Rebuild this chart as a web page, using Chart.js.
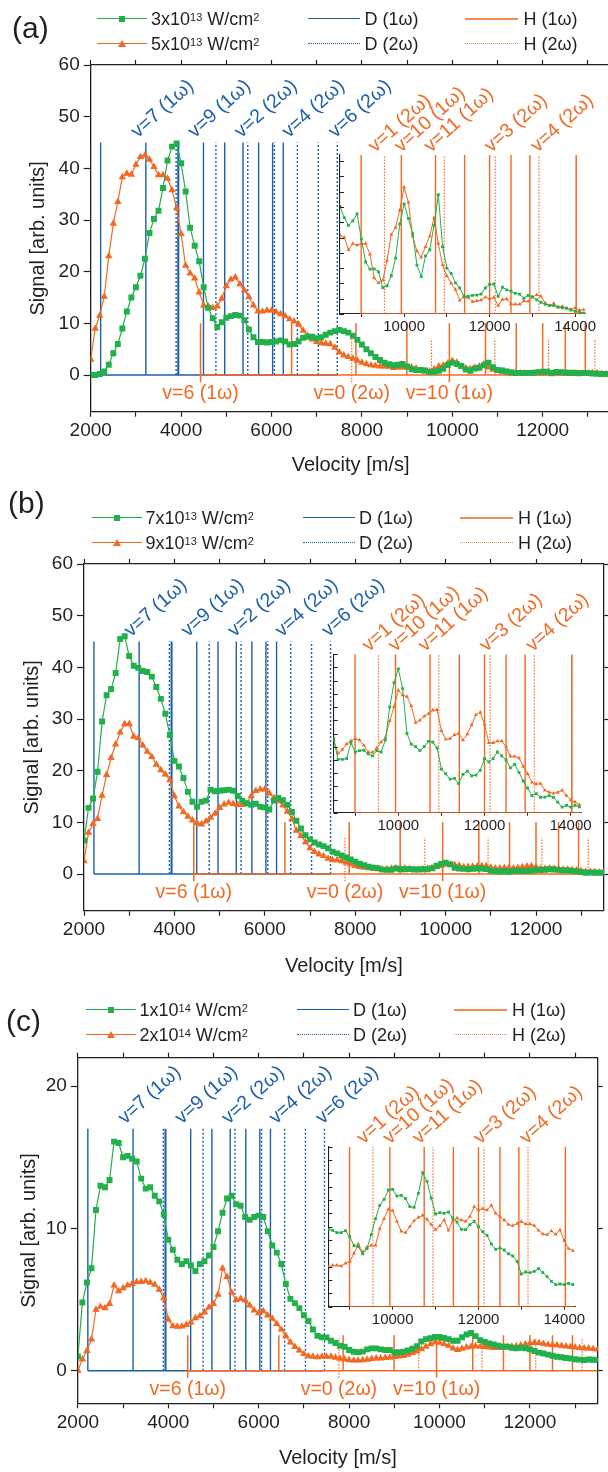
<!DOCTYPE html>
<html><head><meta charset="utf-8">
<script src="https://cdn.jsdelivr.net/npm/chart.js@4.4.1/dist/chart.umd.min.js"></script>
<style>
html,body{margin:0;padding:0;background:#fff;}
#root{position:relative;width:608px;height:1472px;overflow:hidden;background:#fff;font-family:'Liberation Sans',Arial,sans-serif;color:#231f20;}
canvas{position:absolute;}
.lt{position:absolute;font-size:18px;line-height:20px;white-space:nowrap;color:#231f20;}
.lt sup{font-size:11px;position:relative;top:-2px;vertical-align:top;}
.pl{position:absolute;font-size:30px;line-height:34px;color:#231f20;}
.ln{position:absolute;height:0;}
.sq{position:absolute;width:6px;height:6px;}
.tri{position:absolute;width:0;height:0;border-left:4px solid transparent;border-right:4px solid transparent;}
</style></head>
<body><div id="root"></div>
<script>
// ---------------- DATA ----------------
const velStart = 2000, velStep = 100;          // main series sampled every 100 m/s from 2000 to 13500
const insetStart = 8500, insetStep = 100;      // inset series sampled every 100 m/s from 8500 to 14200

const xTicks = [2000, 3000, 4000, 5000, 6000, 7000, 8000, 9000, 10000, 11000, 12000, 13000];
const xTickLabels = [2000, 4000, 6000, 8000, 10000, 12000];
const insetTicks = [9000, 10000, 11000, 12000, 13000, 14000];
const insetTickLabels = [10000, 12000, 14000];

// Vertical reference lines (velocities, m/s)
const D1_lines = [2220, 3220, 3930, 3945, 4495, 4965, 5370, 5715, 6025, 6260];
const D2_lines = [3890, 4770, 5475, 6065, 6573, 7035, 7455];
const H1_lines = [4430, 6445, 7868, 8995, 9935, 10735, 11415, 12000, 12500, 12942, 14025];
const H2_lines = [7774, 9540, 10940, 12130, 13155, 14030];

// Labels
const D_labelText = ['v=7 (1\u03c9)', 'v=9 (1\u03c9)', 'v=2 (2\u03c9)', 'v=4 (2\u03c9)', 'v=6 (2\u03c9)'];
const D_labelV    = [3040, 4300, 5330, 6380, 7410];
const H_topLabelText = ['v=1 (2\u03c9)', 'v=10 (1\u03c9)', 'v=11 (1\u03c9)', 'v=3 (2\u03c9)', 'v=4 (2\u03c9)'];
const H_topLabelV    = [9320, 9930, 10620, 12040, 13120];
const H_bottomLabelText = ['v=6 (1\u03c9)', 'v=0 (2\u03c9)', 'v=10 (1\u03c9)'];
const H_bottomLabelV    = [4430, 7774, 9935];

// Panel (a): 3x10^13 (green) and 5x10^13 (orange)
const a_green = [0,0,0.2,0.7,2,4.2,6,9,12.3,15,
 17,19.2,22.5,27.5,30.2,31.8,36.2,41.5,44.2,44.8,
 41,35.5,28.5,25,22,17,13,11,9.3,10.2,
 11.1,11.4,11.6,11.5,10.6,8.8,7.3,6.4,6.4,6.3,
 6.4,6.5,6.7,6.5,5.9,6,6.5,7.2,7.4,7.4,
 7.1,7.3,7.8,8.2,8.5,8.7,8.5,8.2,7.6,6.8,
 5.9,5,4.2,3.5,2.9,2.4,2.1,1.9,2.0,2.15,
 1.65,1.1,0.95,0.97,0.9,0.56,0.62,0.82,1.2,1.95,
 2.4,2.15,1.75,1.05,0.82,1.25,1.4,1.9,2.4,1.5,
 1,0.87,0.67,0.53,0.38,0.38,0.41,0.41,0.43,0.56,
 0.64,0.65,0.38,0.58,0.53,0.5,0.43,0.43,0.34,0.4,
 0.36,0.31,0.25,0.21,0.18,0.18];
const a_orange = [3,9,11.5,15.2,23,29.3,33.5,38.3,39,38.8,
 40.7,42.2,42.5,41.7,40.3,38.7,38.7,38,35.8,32.3,
 27.3,21.2,19.7,18.7,16,13.5,13.3,13,13.3,14.8,
 17.2,18.5,18.9,17.6,16.4,15.1,13.5,12.3,12.3,12.5,
 12.5,12.2,11.8,11.4,10.8,10.4,9.8,8.6,7.6,6.9,
 6.4,6.2,6.1,6,5.3,4.4,3.8,3.5,3.2,2.8,
 2.4,2.1,1.9,1.8,1.7,1.7,1.65,1.4,1.5,1.5,
 1.5,1.5,1.3,0.8,0.66,0.73,1.15,1.7,1.86,2.25,
 2.75,2.4,1.7,1.35,1.2,1.45,1.7,2.1,1.5,1.05,
 0.83,0.66,0.53,0.28,0.36,0.36,0.26,0.28,0.3,0.36,
 0.33,0.36,0.2,0.31,0.32,0.21,0.21,0.21,0.28,0.28,
 0.36,0.41,0.36,0.25,0.18,0.21];
const a_inset_green = [7.04,6.3,5.8,6.1,6.55,4.9,3.4,2.93,2.95,2.76,
 1.72,1.85,2.5,3.65,5.9,7.2,6.25,5.25,3.2,2.45,
 3.8,4.2,5.8,7.8,4.4,3,2.65,2.04,1.7,1.17,
 1.15,1.22,1.24,1.3,1.7,1.93,1.96,1.15,1.75,1.58,
 1.5,1.35,1.3,1.03,1.22,1.12,0.92,0.77,0.64,0.55,
 0.55,0.45,0.4,0.38,0.26,0.18,0.12,0.06];
const a_inset_orange = [5.15,5.0,4.2,4.6,4.5,4.6,4.6,3.9,2.35,2.03,
 2.2,3.5,5.2,5.65,6.8,8.3,7.3,5.1,4.1,3.7,
 4.4,5.1,6.3,4.6,3.2,2.5,2.0,1.6,0.9,1.1,
 1.08,0.8,0.86,0.91,1.1,1.0,1.08,0.55,0.95,0.98,
 0.65,0.63,0.63,0.85,0.82,1.1,1.25,1.15,0.72,0.55,
 0.7,0.45,0.5,0.37,0.3,0.4,0.25,0.28];

// Panel (b): 7x10^13 (green) and 9x10^13 (orange)
const b_green = [6.5,12.8,14.6,19.8,29.5,34.6,35.8,38.9,45.5,46,
 42.2,40.3,39.9,39.3,39.1,38.2,36.2,33.9,31,26.9,
 21.9,20.8,18.6,15.9,14,13,14,14.2,16.3,16,
 16.1,16.2,16.3,16.1,15.1,14.2,13.7,13.4,13.6,13,
 12.9,12.5,14.2,14.7,14.3,13.4,12,10.3,8.8,7.5,
 6.7,6.1,5.7,5.4,5,4.3,4,3.6,3.2,2.8,
 2.4,2,1.7,1.4,1.2,1.1,0.85,0.8,0.82,1.05,
 0.92,0.94,0.95,0.89,0.86,0.94,0.92,1.1,1.6,1.95,
 2.2,1.9,1.2,1.05,1.0,0.94,1.0,1.08,1.07,0.98,
 0.66,0.6,0.5,0.52,0.44,0.58,0.63,0.56,0.57,0.64,
 0.82,0.77,0.82,0.92,0.86,0.8,0.68,0.73,0.61,0.48,
 0.37,0.26,0.29,0.23,0.24,0.26];
const b_orange = [2.5,8,9.7,10.7,15.2,19.2,22.5,25.1,27.4,29,
 29,26.6,26.3,24.9,23.7,22.7,21.2,20.1,19.3,18.2,
 15.1,13.1,12,11.1,10.4,9.9,9.6,10.2,10.9,11.7,
 12.8,13.5,13.8,13.6,13.4,13.4,13.7,15.1,16.1,16.4,
 16.4,15.6,14.7,14.1,13.3,12.1,10.7,8.4,7.4,6.2,
 5,4.3,3.8,3.5,3,2.7,2.7,2.5,2.2,1.9,
 1.6,1.4,1.25,1.15,1.1,1.05,0.9,0.96,1.04,1.09,
 1.12,1.1,1.02,0.92,0.91,0.98,1.07,1.14,1.39,1.6,
 1.85,1.78,1.76,1.62,1.36,1.4,1.46,1.5,1.55,1.56,
 1.24,1.11,1.12,1.18,1.2,1.1,1.19,1.33,1.48,1.52,
 1.34,1.06,1.06,1.09,1.08,1,0.85,0.85,0.83,0.7,
 0.59,0.46,0.43,0.44,0.34,0.31];
const b_inset_green = [5.6,4.04,4.04,4.1,5.3,4.6,4.7,4.73,4.45,4.3,
 4.7,4.6,5.5,8.0,9.85,10.9,9.4,6.0,5.2,5,
 4.7,5,5.4,5.35,4.9,3.3,2.95,2.55,2.6,2.2,
 2.9,3.15,2.8,2.85,3.2,4.1,3.85,4.1,4.6,4.3,
 3.99,3.4,3.65,3.05,2.4,1.85,1.3,1.45,1.16,1.18,
 1.3,1.16,0.8,0.42,0.55,0.42,0.56,0.45];
const b_inset_orange = [5.5,4.5,4.78,5.2,5.45,5.6,5.5,5.1,4.6,4.57,
 4.9,5.35,5.7,6.95,8.03,9.27,8.9,8.8,8.1,6.82,
 7.0,7.3,7.5,7.75,7.8,6.2,5.55,5.62,5.9,6,
 5.5,5.95,6.65,7.42,7.6,6.7,5.3,5.3,5.43,5.42,
 5,4.27,4.27,4.14,3.5,2.95,2.3,2.17,2.2,1.7,
 1.55,1.46,1.55,1.7,1.3,0.95,0.8,0.6];

// Panel (c): 1x10^14 (green) and 2x10^14 (orange)
const c_green = [1,4.8,6.2,7.2,11.3,13,12.9,13.4,16.1,16,
 15,15.1,14.9,14.7,13.5,12.8,12.9,12.3,11.9,11,
 9.2,8.5,7.8,7.5,7.7,7.4,7,7.5,7.7,8.1,
 8.7,9.8,11.1,12.1,12.3,11.7,11.6,10.8,10.6,10.8,
 10.9,10.8,9.8,8.8,8.3,7.5,6.1,5.05,4.75,4.4,
 3.9,3.5,2.9,2.45,2.35,2.34,2.1,1.95,1.75,1.69,
 1.45,1.33,1.3,1.34,1.5,1.57,1.57,1.5,1.45,1.45,
 1.28,1.3,1.34,1.42,1.55,1.72,2.05,2.22,2.28,2.37,
 2.37,2.3,2.22,2.1,2.1,2.35,2.55,2.65,2.43,2.15,
 2.02,1.92,1.84,1.75,1.69,1.69,1.62,1.57,1.62,1.58,
 1.5,1.38,1.27,1.21,1.13,1.05,0.98,0.95,0.9,0.86,
 0.81,0.78,0.75,0.79,0.77,0.75];
const c_orange = [0,0.8,1.4,2.2,4.3,4.5,4.4,4.7,6,5.6,
 5.8,6,6.1,6.25,6.25,6.3,6.2,6.05,5.7,5.1,
 3.6,3.14,3.1,3.12,3.23,3.4,3.7,3.85,4.1,4.45,
 4.7,5.35,7.2,6.6,5.5,4.98,5.05,4.95,4.6,4.25,
 4.05,4.2,3.9,3.66,3.3,2.9,2.45,2,1.68,1.44,
 1.18,1.02,1,0.95,1,1,1,0.92,0.85,0.8,
 0.75,0.72,0.72,0.75,0.78,0.83,0.87,0.87,0.9,0.92,
 0.97,1.01,1.04,1.13,1.25,1.36,1.52,1.7,1.87,2.0,
 1.98,1.88,1.76,1.58,1.47,1.55,1.65,1.7,1.73,1.7,
 1.68,1.64,1.6,1.6,1.65,1.68,1.69,1.73,1.78,1.85,
 1.92,1.96,1.95,1.9,1.83,1.8,1.8,1.75,1.71,1.68,
 1.65,1.6,1.57,1.57,1.53,1.5];
const c_inset_green = [5.8,5.72,5.55,5.55,5.7,5.25,4.58,4.5,3.96,4.35,
 5.4,6.6,7.6,8.05,8.75,8.8,8.3,8.35,8.1,7.5,
 7.45,8.5,10.05,9.4,8.15,6.95,7.05,7.0,7.1,6.65,
 6.35,5.8,5.78,6.15,6.4,6.0,5.62,5.35,4.7,4.3,
 4.4,4.25,3.97,3.8,3.4,2.45,2.6,2.55,2.65,2.85,
 2.55,2.25,1.9,1.66,1.7,1.65,1.75,1.65];
const c_inset_orange = [3,3.1,3.1,3.05,3.25,3.4,4.0,4.7,4.1,4.45,
 4.6,4.6,5.85,6.6,7.3,7.2,6.4,5.65,5.55,6.0,
 6.45,6.7,6.85,6.55,6.15,5.78,6.07,6.5,5.72,6.44,
 6.64,6.5,6.4,6.75,7.5,7.25,7.35,7.25,7.6,7.0,
 6.75,6.5,6.15,6.08,6.23,6.38,6.2,6.2,6.08,5.72,
 5.45,5.4,5.68,5.42,5.75,4.95,4.35,4.2];

// Legend texts
const legendSeries = [
  ['3x10<sup>13</sup> W/cm<sup>2</sup>', '5x10<sup>13</sup> W/cm<sup>2</sup>'],
  ['7x10<sup>13</sup> W/cm<sup>2</sup>', '9x10<sup>13</sup> W/cm<sup>2</sup>'],
  ['1x10<sup>14</sup> W/cm<sup>2</sup>', '2x10<sup>14</sup> W/cm<sup>2</sup>']
];
const panelNames = ['(a)', '(b)', '(c)'];

// ---------------- STYLE / LAYOUT ----------------
const FONT = "'Liberation Sans', Arial, sans-serif";
const TXT = '#231f20';
const GREEN = '#22b04b', ORANGE = '#f26a22', BLUE = '#1c5fab', ORANGE_L = '#f58a55';
Chart.defaults.font.family = FONT;
Chart.defaults.color = TXT;

const layout = [
  {cTop:0,   cH:480, L:90.7, R:610.5, T:65,     B:411.7,  ymin:-7.1, ymax:60, ystep:10, dTop:45, hTop:10, h2Top:7, drop:1.4,
   titleX:26, xTitlePad:3, legY:19, lab:{x:12,y:11}, shift:0,
   inset:{cl:296, ct:60, cw:312, ch:285, L:340, R:585.8, T:155, B:314, ymax:10.4},
   g:a_green, o:a_orange, gi:a_inset_green, oi:a_inset_orange},
  {cTop:490, cH:490, L:84, R:603.8, T:564, B:910.7, ymin:-7.1, ymax:60, ystep:10, dTop:45, hTop:10, h2Top:7, drop:1.4,
   titleX:20, xTitlePad:2, legY:518, lab:{x:8,y:486}, shift:-5.5,
   inset:{cl:290, ct:560, cw:318, ch:285, L:333.7, R:581.5, T:654.3, B:812.7, ymax:12},
   g:b_green, o:b_orange, gi:b_inset_green, oi:b_inset_orange},
  {cTop:985, cH:487, L:77.9, R:597.7, T:1057.7, B:1403.3, ymin:-2.29, ymax:22, ystep:10, dTop:17, hTop:2.5, h2Top:2.3, drop:0.5,
   titleX:17, xTitlePad:2, legY:1010, lab:{x:6,y:1004}, shift:-11.5,
   inset:{cl:285, ct:1052, cw:323, ch:285, L:328.3, R:575, T:1146.7, B:1306.7, ymax:12},
   g:c_green, o:c_orange, gi:c_inset_green, oi:c_inset_orange}
];

// ---------------- HELPERS ----------------
function series(vals, x0, step){ return vals.map((v,i)=>({x:x0+i*step, y:v})); }
function impulses(xs, lo, hi, ext, extLo){
  const pts=[];
  xs.forEach(x=>{ const l=(ext&&ext.includes(x))?extLo:lo; pts.push({x:x,y:l},{x:x,y:hi},{x:x,y:null}); });
  return pts;
}
function lineDS(data, color, width, dash, order){
  return {data, borderColor:color, backgroundColor:color, borderWidth:width, borderDash:dash||[], pointRadius:0,
          spanGaps:false, order, tension:0};
}
const labelPlugin = {
  id:'vlabels',
  afterDatasetsDraw(chart, args, opts){
    const ctx=chart.ctx, xs=chart.scales.x, ys=chart.scales.y;
    ctx.save();
    ctx.font = opts.font;
    (opts.rotated||[]).forEach(l=>{
      const px=xs.getPixelForValue(l.v), py=ys.getPixelForValue(l.y)+l.dy;
      ctx.save(); ctx.translate(px,py); ctx.rotate(-42*Math.PI/180);
      ctx.fillStyle=l.color; ctx.textAlign='left'; ctx.textBaseline='alphabetic';
      ctx.fillText(l.text,0,0); ctx.restore();
    });
    (opts.below||[]).forEach(l=>{
      const px=xs.getPixelForValue(l.v), py=ys.getPixelForValue(0)+9;
      ctx.fillStyle=l.color; ctx.textAlign='center'; ctx.textBaseline='top';
      ctx.fillText(l.text,px,py);
    });
    if (opts.inwardTicks){
      ctx.strokeStyle=TXT; ctx.lineWidth=1;
      const xl = chart.chartArea.left;
      ys.ticks.forEach(t=>{ const py=Math.round(ys.getPixelForValue(t.value))+0.5; ctx.beginPath(); ctx.moveTo(xl,py); ctx.lineTo(xl+4,py); ctx.stroke(); });
    }
    ctx.restore();
  }
};

const root = document.getElementById('root');
function mkCanvas(l,t,w,h){
  const c=document.createElement('canvas'); c.width=w; c.height=h;
  c.style.left=l+'px'; c.style.top=t+'px'; c.style.width=w+'px'; c.style.height=h+'px';
  root.appendChild(c); return c;
}
function mkDiv(cls, css, html){
  const d=document.createElement('div'); d.className=cls; Object.assign(d.style, css); if(html!==undefined) d.innerHTML=html; root.appendChild(d); return d;
}
const setTicks = (list)=> (s)=>{ s.ticks = list.map(v=>({value:v})); };
const labelIf = (list)=> (v)=> list.includes(Math.round(v)) ? String(Math.round(v)) : '';

// ---------------- BUILD PANELS ----------------
layout.forEach((P, pi)=>{
  const W=640;
  const cv = mkCanvas(0, P.cTop, W, P.cH);
  const datasets = [
    {data:series(P.g, velStart, velStep), borderColor:GREEN, backgroundColor:GREEN, borderWidth:1.2, pointStyle:'rect',
     pointRadius:4.2, pointBorderWidth:0, pointBackgroundColor:GREEN, order:0, tension:0},
    {data:series(P.o, velStart, velStep), borderColor:ORANGE, backgroundColor:ORANGE, borderWidth:1.2, pointStyle:'triangle',
     pointRadius:4.3, pointBorderWidth:0, pointBackgroundColor:ORANGE, order:1, tension:0},
    lineDS([{x:H1_lines[0],y:0},{x:13500,y:0}], ORANGE, 1.5, null, 2),
    lineDS(impulses(H1_lines, 0, P.hTop, H_bottomLabelV, -P.drop), ORANGE, 1.5, null, 2),
    lineDS(impulses(H2_lines, 0, P.h2Top, H_bottomLabelV, -P.drop), ORANGE, 1.2, [1.5,1.5], 2),
    lineDS(impulses(D1_lines, 0, P.dTop), BLUE, 1.4, null, 3),
    lineDS(impulses(D2_lines, 0, P.dTop), BLUE, 1.4, [2,2], 3),
    lineDS([{x:D1_lines[0],y:0},{x:D2_lines[D2_lines.length-1],y:0}], BLUE, 1.5, null, 4)
  ];
  const tickFont={family:FONT,size:19};
  new Chart(cv, {
    type:'line',
    data:{datasets},
    plugins:[labelPlugin],
    options:{
      responsive:false, animation:false, devicePixelRatio:1,
      layout:{padding:0},
      plugins:{legend:{display:false}, tooltip:{enabled:false},
        vlabels:{font:'19.5px '+FONT,
          rotated: D_labelText.map((t,i)=>({text:t, v:D_labelV[i], y:P.dTop, dy:-4, color:BLUE})),
          below: H_bottomLabelText.map((t,i)=>({text:t, v:H_bottomLabelV[i], color:ORANGE}))}},
      scales:{
        x:{type:'linear', position:'bottom', min:2000, max:13500,
           afterBuildTicks:setTicks(xTicks),
           ticks:{autoSkip:false, maxRotation:0, minRotation:0, font:tickFont, color:TXT, padding:3, callback:labelIf(xTickLabels)},
           grid:{drawOnChartArea:false, tickLength:5, tickColor:TXT, tickWidth:1.2},
           border:{color:TXT, width:1.3},
           title:{display:true, text:'Velocity [m/s]', font:{family:FONT,size:20}, color:TXT, padding:{top:0,bottom:P.xTitlePad}},
           afterFit:(s)=>{s.height = P.cTop + P.cH - P.B;}},
        x2:{type:'linear', position:'top', min:2000, max:13500,
           afterBuildTicks:setTicks(xTicks),
           ticks:{autoSkip:false, display:false},
           grid:{drawOnChartArea:false, tickLength:5, tickColor:TXT, tickWidth:1.2},
           border:{color:TXT, width:1.3},
           afterFit:(s)=>{s.height = P.T - P.cTop;}},
        y:{type:'linear', position:'left', min:P.ymin, max:P.ymax,
           ticks:{stepSize:P.ystep, includeBounds:false, font:tickFont, color:TXT, padding:4},
           grid:{drawOnChartArea:false, tickLength:7, tickColor:TXT, tickWidth:1.2},
           border:{color:TXT, width:1.3},
           title:{display:true, text:'Signal [arb. units]', font:{family:FONT,size:20}, color:TXT, padding:{top:P.titleX,bottom:0}},
           afterFit:(s)=>{s.width = P.L;}},
        y2:{type:'linear', position:'right', min:P.ymin, max:P.ymax,
           ticks:{stepSize:P.ystep, includeBounds:false, display:false},
           grid:{drawOnChartArea:false, tickLength:5, tickColor:TXT, tickWidth:1.2},
           border:{color:TXT, width:1.3},
           afterFit:(s)=>{s.width = W - P.R;}}
      }
    }
  });

  // ---- inset ----
  const I = P.inset;
  const ic = mkCanvas(I.cl, I.ct, I.cw, I.ch);
  const ids = [
    {data:series(P.gi, insetStart, insetStep), borderColor:GREEN, backgroundColor:GREEN, borderWidth:1, pointStyle:'rect',
     pointRadius:2, pointBorderWidth:0, pointBackgroundColor:GREEN, order:0, tension:0},
    {data:series(P.oi, insetStart, insetStep), borderColor:ORANGE, backgroundColor:ORANGE, borderWidth:1, pointStyle:'triangle',
     pointRadius:2.3, pointBorderWidth:0, pointBackgroundColor:ORANGE, order:1, tension:0},
    lineDS(impulses(H1_lines.filter(v=>v>=8500), 0, I.ymax), ORANGE, 1.4, null, 2),
    lineDS(impulses(H2_lines.filter(v=>v>=8500), 0, I.ymax), ORANGE, 1.1, [1.5,1.5], 2),
    lineDS([{x:8995,y:0},{x:14250,y:0}], ORANGE, 1.4, null, 2)
  ];
  new Chart(ic, {
    type:'line', data:{datasets:ids}, plugins:[labelPlugin],
    options:{
      responsive:false, animation:false, devicePixelRatio:1,
      layout:{padding:{top:I.T-I.ct, right:I.cl+I.cw-I.R, left:0, bottom:0}},
      plugins:{legend:{display:false}, tooltip:{enabled:false},
        vlabels:{font:'19.5px '+FONT, inwardTicks:true,
          rotated: H_topLabelText.map((t,i)=>({text:t, v:H_topLabelV[i], y:I.ymax, dy:-2, color:ORANGE}))}},
      scales:{
        x:{type:'linear', position:'bottom', min:8500, max:14250,
           afterBuildTicks:setTicks(insetTicks),
           ticks:{autoSkip:false, maxRotation:0, minRotation:0, font:{family:FONT,size:15}, color:TXT, padding:1, callback:labelIf(insetTickLabels)},
           grid:{drawOnChartArea:false, tickLength:3, tickColor:TXT, tickWidth:1},
           border:{color:TXT, width:1.1},
           afterFit:(s)=>{s.height = I.ct + I.ch - I.B;}},
        y:{type:'linear', position:'left', min:0, max:I.ymax,
           ticks:{stepSize:1, includeBounds:false, display:false},
           grid:{drawOnChartArea:false, drawTicks:false},
           border:{color:TXT, width:1.1},
           afterFit:(s)=>{s.width = I.L - I.cl;}}
      }
    }
  });

  // ---- legend & panel label (HTML text) ----
  const sx = P.shift, y1 = P.legY, y2 = P.legY + 25;
  mkDiv('ln', {left:(97+sx)+'px', top:(y1-0.6)+'px', width:'50px', borderTop:'1.2px solid '+GREEN});
  mkDiv('sq', {left:(119+sx)+'px', top:(y1-3)+'px', background:GREEN});
  mkDiv('lt', {left:(151+sx)+'px', top:(y1-10)+'px'}, legendSeries[pi][0]);
  mkDiv('ln', {left:(97+sx)+'px', top:(y2-0.6)+'px', width:'50px', borderTop:'1.2px solid '+ORANGE});
  mkDiv('tri', {left:(118+sx)+'px', top:(y2-4)+'px', borderBottom:'7px solid '+ORANGE});
  mkDiv('lt', {left:(151+sx)+'px', top:(y2-10)+'px'}, legendSeries[pi][1]);
  mkDiv('ln', {left:(308+sx)+'px', top:(y1-0.75)+'px', width:'52px', borderTop:'1.5px solid '+BLUE});
  mkDiv('lt', {left:(364.5+sx)+'px', top:(y1-10)+'px'}, 'D (1\u03c9)');
  mkDiv('ln', {left:(308+sx)+'px', top:(y2-0.75)+'px', width:'52px', borderTop:'1.5px dotted '+BLUE});
  mkDiv('lt', {left:(364.5+sx)+'px', top:(y2-10)+'px'}, 'D (2\u03c9)');
  mkDiv('ln', {left:(465+sx)+'px', top:(y1-1)+'px', width:'53px', borderTop:'2px solid '+ORANGE_L});
  mkDiv('lt', {left:(523.5+sx)+'px', top:(y1-10)+'px'}, 'H (1\u03c9)');
  mkDiv('ln', {left:(465+sx)+'px', top:(y2-0.75)+'px', width:'53px', borderTop:'1.5px dotted '+ORANGE_L});
  mkDiv('lt', {left:(523.5+sx)+'px', top:(y2-10)+'px'}, 'H (2\u03c9)');
  mkDiv('pl', {left:P.lab.x+'px', top:P.lab.y+'px'}, panelNames[pi]);
});
</script>
</body></html>
